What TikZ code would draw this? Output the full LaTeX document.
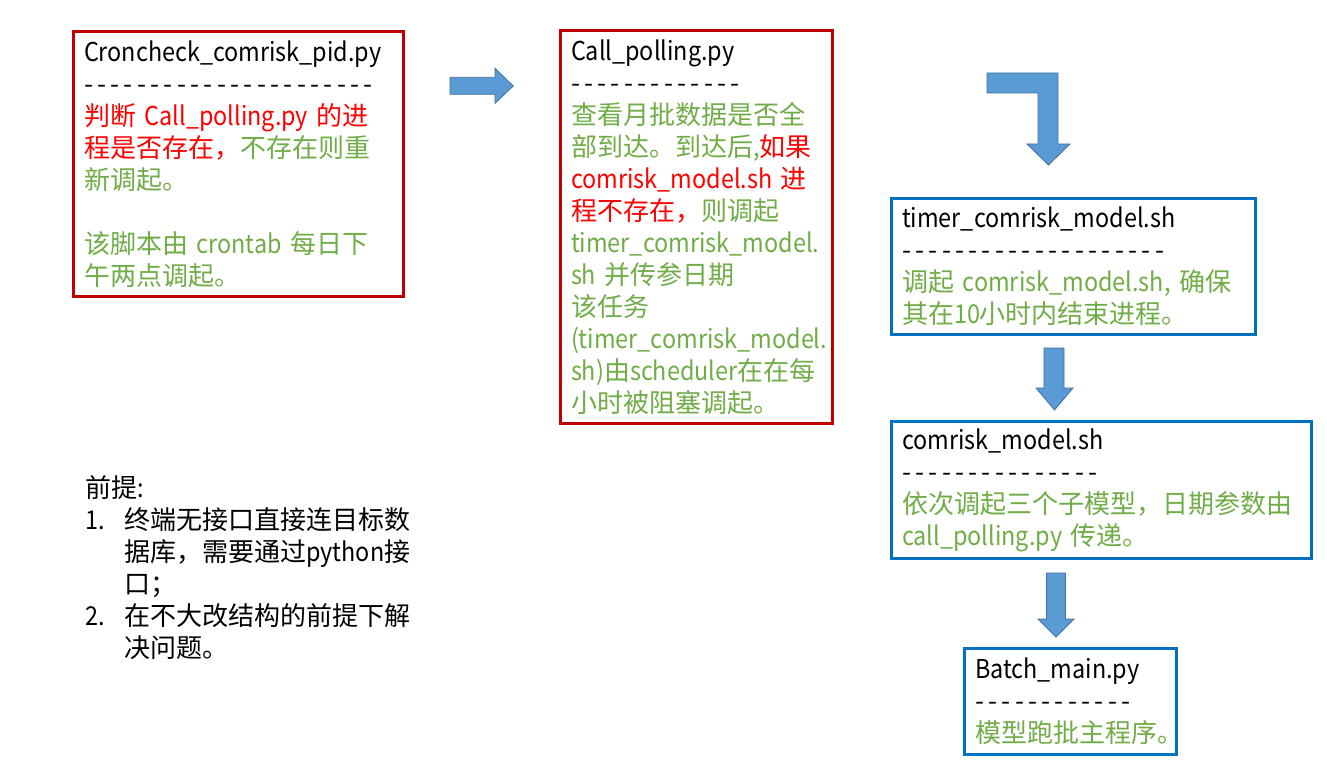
\documentclass[tikz,border=0pt]{standalone}
\usepackage{fontspec}
\setmainfont{Noto Sans CJK SC}
\newfontfamily\latf{Noto Sans CJK SC}[FakeStretch=0.9]
\newcommand\la[1]{{\latf #1}}
\definecolor{boxred}{HTML}{C00000}
\definecolor{boxblue}{HTML}{0070C0}
\definecolor{txtred}{HTML}{FF0000}
\definecolor{txtgreen}{HTML}{70AD47}
\definecolor{arrfill}{HTML}{5B9BD5}
\definecolor{arredge}{HTML}{41719C}
\newcommand\rd[1]{\textcolor{txtred}{#1}}
\newcommand\gr[1]{\textcolor{txtgreen}{#1}}
\newcommand\dashline[1]{\foreach \i in {1,...,#1}{\makebox[13.33pt][l]{-}}}
\begin{document}
\begin{tikzpicture}[x=1pt,y=-1pt,
  box/.style={draw, line width=3pt, outer sep=0pt, inner xsep=10.5pt, inner ysep=0pt,
    align=left, anchor=north west, font=\fontsize{26}{32}\selectfont},
  redbox/.style={box, draw=boxred},
  bluebox/.style={box, draw=boxblue},
  blockarrow/.style={fill=arrfill, draw=arredge, line width=0.8pt, line join=miter}]
\useasboundingbox[fill=white] (0,0) rectangle (1327,778);

\node[redbox, text width=309pt, minimum height=265pt] (cron) at (73.5,31.5)
{\la{Croncheck\_comrisk\_pid.py}\\
\dashline{22}\\
\rd{判断~\la{Call\_polling.py}~的进}\\
\rd{程是否存在，}\gr{不存在则重}\\
\gr{新调起。}\\[32pt]
\gr{该脚本由~\la{crontab}~每日下}\\
\gr{午两点调起。}};

\node[redbox, text width=251pt, minimum height=393pt] (poll) at (560.5,30.5)
{\la{Call\_polling.py}\\
\dashline{13}\\
\gr{查看月批数据是否全}\\
\gr{部到达。到达后\la{,}}\rd{如果}\\
\rd{\la{comrisk\_model.sh}~进}\\
\rd{程不存在，}\gr{则调起}\\
\gr{\la{timer\_comrisk\_model.}}\\
\gr{\la{sh}~并传参日期}\\
\gr{该任务}\\
\gr{\la{(timer\_comrisk\_model.}}\\
\gr{\la{sh)}由\la{scheduler}在在每}\\
\gr{小时被阻塞调起。}};

\node[bluebox, text width=343pt, minimum height=136pt] (timer) at (891.5,198.5)
{\la{timer\_comrisk\_model.sh}\\
\dashline{20}\\
\gr{调起~\la{comrisk\_model.sh,}~确保}\\
\gr{其在\la{10}小时内结束进程。}};

\node[bluebox, text width=399pt, minimum height=137pt] (model) at (891.5,421.5)
{\la{comrisk\_model.sh}\\
\dashline{15}\\
\gr{依次调起三个子模型，日期参数由}\\
\gr{\la{call\_polling.py}~传递。}};

\node[bluebox, text width=191pt, minimum height=106pt] (batch) at (964.5,648.5)
{\la{Batch\_main.py}\\
\dashline{12}\\
\gr{模型跑批主程序。}};

\node[anchor=north west, inner sep=0pt, align=left, text width=360pt,
  font=\fontsize{26}{32}\selectfont] (premise) at (85,475)
{前提\la{:}\\
\makebox[39pt][l]{\la{1.}}终端无接口直接连目标数\\
\hspace*{39pt}据库，需要通过\la{python}接\\
\hspace*{39pt}口；\\
\makebox[39pt][l]{\la{2.}}在不大改结构的前提下解\\
\hspace*{39pt}决问题。};

% block arrows
\draw[blockarrow] (450,77.3) -- (495,77.3) -- (495,68.3) -- (513.3,86) -- (495,103.3)
  -- (495,94.3) -- (450,94.3) -- cycle;
\draw[blockarrow] (987,73) -- (1058,73) -- (1058,144) -- (1070,144) -- (1048.5,165)
  -- (1027,144) -- (1038,144) -- (1038,93) -- (987,93) -- cycle;
\draw[blockarrow] (1044,348) -- (1064,348) -- (1064,388) -- (1073,388) -- (1054.5,410)
  -- (1036,388) -- (1044,388) -- cycle;
\draw[blockarrow] (1046.5,573) -- (1065.5,573) -- (1065.5,619) -- (1074,619) -- (1056,637)
  -- (1038,619) -- (1046.5,619) -- cycle;
\end{tikzpicture}
\end{document}
